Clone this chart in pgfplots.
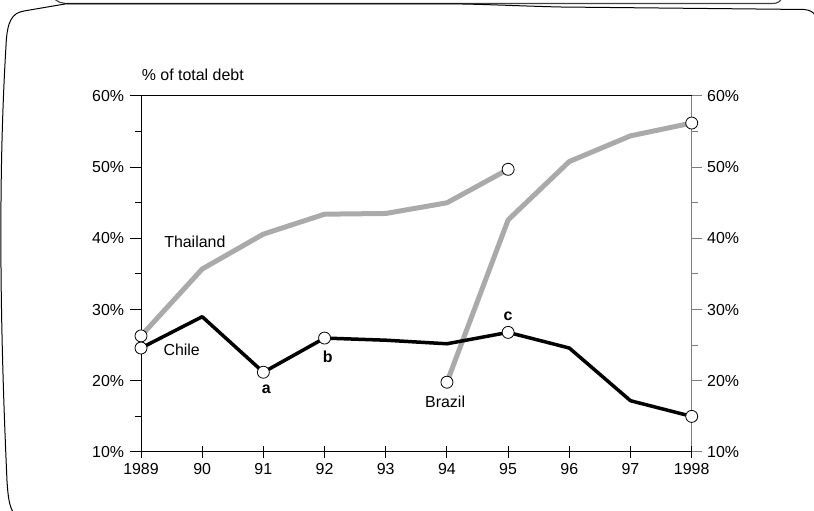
\documentclass[border=0pt]{standalone}
\usepackage{fontspec}
\setmainfont{Liberation Sans}
\usepackage{pgfplots}
\pgfplotsset{compat=1.18}
\definecolor{lgray}{RGB}{170,170,170}
\definecolor{agray}{RGB}{125,125,125}
\begin{document}
\fontsize{16}{19}\selectfont
\begin{tikzpicture}[x=1bp,y=1bp]
\useasboundingbox (0,0) rectangle (814,511);
% decorative page frame
\draw[black!75, line width=1.1bp] (52,516) .. controls (56,508) and (62,507.5) .. (70,507.5) -- (772,507.5) .. controls (778,507.5) and (781,509) .. (783,516);
\draw[black, line width=1bp] (13,-1) .. controls (9,6) and (8,15) .. (7,30) .. controls (3,120) and (-4,300) .. (6,465) .. controls (7,490) and (12,498) .. (24,500) -- (65,507) -- (462,507) .. controls (490,506.5) and (520,505) .. (560,504) -- (804,501.5) .. controls (810,501) and (813,499) .. (815,496);
% right axis (gray)
\begin{axis}[
  at={(141bp,59bp)}, anchor=south west, scale only axis,
  width=550.7bp, height=356bp,
  xmin=1989, xmax=1998, ymin=10, ymax=60,
  axis x line=none, axis y line*=right,
  xtick=\empty,
  ytick={10,20,...,60}, minor ytick={15,25,...,55},
  ytick align=outside,
  major tick length=10bp, minor tick length=6bp,
  axis line style={agray, line width=1.5bp},
  every tick/.style={agray, line width=1bp},
  yticklabel={\pgfmathprintnumber{\tick}\%},
  /pgf/number format/assume math mode=true,
  tick label style={font=\fontsize{16}{19}\selectfont},
]
\end{axis}
% main axis
\begin{axis}[
  at={(141bp,59bp)}, anchor=south west, scale only axis,
  width=550.7bp, height=356bp,
  xmin=1989, xmax=1998, ymin=10, ymax=60,
  axis x line*=box, axis y line*=left,
  xtick={1989,...,1998},
  xticklabels={1989,90,91,92,93,94,95,96,97,1998},
  xtick pos=left,
  ytick={10,20,...,60}, minor ytick={15,25,...,55},
  xtick align=center, ytick align=outside,
  major tick length=11.5bp, minor tick length=6bp,
  axis line style={black, line width=1bp},
  every tick/.style={black, line width=1bp},
  yticklabel={\pgfmathprintnumber{\tick}\%},
  /pgf/number format/assume math mode=true,
  /pgf/number format/1000 sep={},
  tick label style={font=\fontsize{16}{19}\selectfont},
  clip=false,
]
% Thailand
\addplot[lgray, line width=5bp, line join=round] coordinates {(1989,26.3)(1990,35.7)(1991,40.6)(1992,43.4)(1993,43.5)(1994,45.0)(1995,49.7)};
% Brazil
\addplot[lgray, line width=5bp, line join=round] coordinates {(1994,19.8)(1995,42.6)(1996,50.8)(1997,54.4)(1998,56.2)};
% Chile
\addplot[black, line width=3.5bp, line join=round] coordinates {(1989,24.6)(1990,29.0)(1991,21.2)(1992,26.0)(1993,25.7)(1994,25.2)(1995,26.8)(1996,24.6)(1997,17.2)(1998,15.0)};
% open circle markers
\addplot[only marks, mark=*, mark size=6bp, mark options={fill=white, draw=black, line width=0.8bp}] coordinates {(1989,26.3)(1995,49.7)(1994,19.8)(1998,56.2)(1989,24.6)(1991,21.2)(1992,26.0)(1995,26.8)(1998,15.0)};
\node[anchor=base west, inner sep=0pt] at (axis cs:1989.01,62.15) {\% of total debt};
\node at (axis cs:1989.88,39.54) {Thailand};
\node at (axis cs:1989.665,24.33) {Chile};
\node at (axis cs:1993.97,17.07) {Brazil};
\node at (axis cs:1991.05,18.8) {\textbf{a}};
\node at (axis cs:1992.05,23.4) {\textbf{b}};
\node at (axis cs:1995.0,29.0) {\textbf{c}};
\end{axis}
\end{tikzpicture}
\end{document}
